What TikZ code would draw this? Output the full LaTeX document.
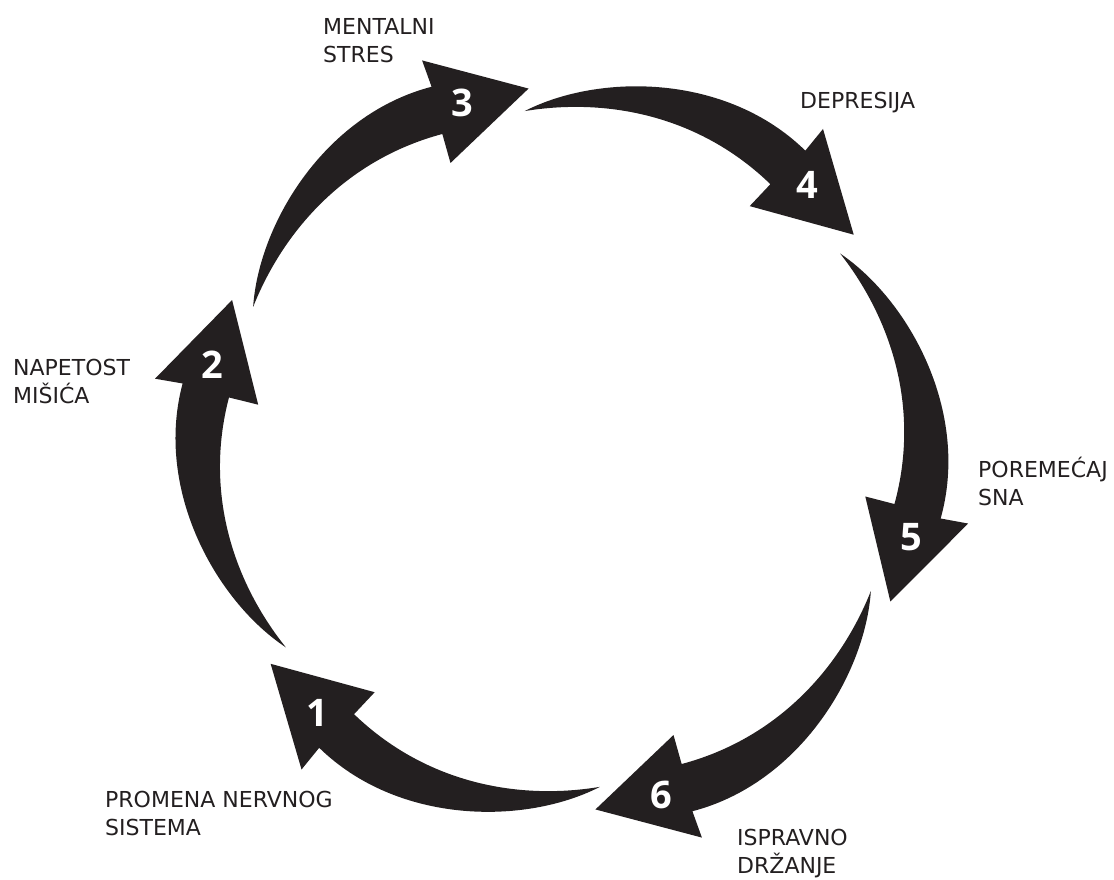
\documentclass[tikz,border=0pt]{standalone}
\usepackage{fontspec}
\setmainfont{DejaVu Sans}
\newfontfamily\numfont{Open Sans}
\usepackage{tikz}
\definecolor{arrowblack}{HTML}{231F20}
% one curved arrow of the cycle: #1 tip angle, #2 number, #3 node name
\newcommand{\cyclearrow}[3]{%
  \fill[arrowblack] (#1:362) -- (#1+14.5:413) -- (#1+14.5:385)
    .. controls (#1+30:410) and (#1+48:378) .. (#1+60:340)
    .. controls (#1+46:355) and (#1+31:360) .. (#1+15.5:337)
    -- (#1+16:307) -- cycle;
  \node[numtext] (#3) at (#1+10.8:360) {#2};
}

\begin{document}
\begin{tikzpicture}[x=1pt,y=1pt,
    numtext/.style={text=white,inner sep=0,font=\numfont\bfseries\fontsize{38}{38}\selectfont},
    lbl/.style={anchor=base west,align=left,inner sep=0,text=arrowblack,font=\fontsize{22}{28}\selectfont}]
  \useasboundingbox (-562,-430) rectangle (552,449);
  \cyclearrow{-143.6}{1}{n1}
  \cyclearrow{155.7}{2}{n2}
  \cyclearrow{95.3}{3}{n3}
  \cyclearrow{36.3}{4}{n4}
  \cyclearrow{-24.9}{5}{n5}
  \cyclearrow{-84.7}{6}{n6}
  % labels (placed at the baseline of the last line)
  \node[lbl] (lab1) at (-457,-386) {PROMENA NERVNOG\\SISTEMA};
  \node[lbl] (lab2) at (-549,46) {NAPETOST\\MIŠIĆA};
  \node[lbl] (lab3) at (-239,386) {MENTALNI\\STRES};
  \node[lbl] (lab4) at (238,341) {DEPRESIJA};
  \node[lbl] (lab5) at (416,-56) {POREMEĆAJ\\SNA};
  \node[lbl] (lab6) at (175,-424) {ISPRAVNO\\DRŽANJE};
\end{tikzpicture}
\end{document}
